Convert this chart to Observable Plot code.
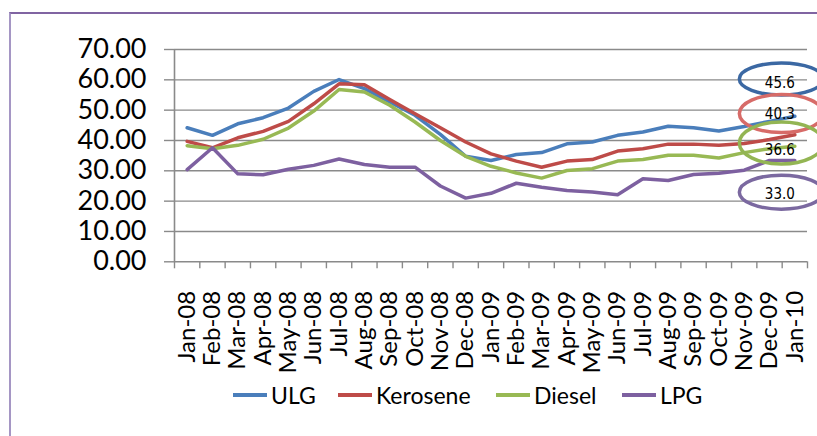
<!DOCTYPE html>
<html>
<head>
<meta charset="utf-8">
<script src="https://cdn.jsdelivr.net/npm/d3@7"></script>
<script src="https://cdn.jsdelivr.net/npm/@observablehq/plot@0.6"></script>
<style>
  html, body { margin: 0; padding: 0; background: #fff; }
  body { width: 817px; height: 436px; position: relative; overflow: hidden; font-family: Lato, "Open Sans", sans-serif; }
  #frame { position: absolute; left: 9px; top: 12px; width: 900px; height: 500px; border-top: 2px solid #8064a2; border-left: 2px solid #a596c4; box-sizing: border-box; }
  #chart { position: absolute; left: 0; top: 0; }
  #legend { position: absolute; top: 380px; left: 0; width: 817px; height: 30px; font-size: 23px; color: #000; }
  .item { position: absolute; top: 0; display: flex; align-items: center; height: 30px; }
  .sw { width: 34px; height: 4px; margin-right: 4px; }
</style>
</head>
<body>
<div id="frame"></div>
<div id="chart"></div>
<div id="legend"></div>
<script>
const months = ["Jan-08","Feb-08","Mar-08","Apr-08","May-08","Jun-08","Jul-08","Aug-08","Sep-08","Oct-08","Nov-08","Dec-08",
  "Jan-09","Feb-09","Mar-09","Apr-09","May-09","Jun-09","Jul-09","Aug-09","Sep-09","Oct-09","Nov-09","Dec-09","Jan-10"];
const seriesNames = ["ULG", "Kerosene", "Diesel", "LPG"];
const seriesColors = ["#4a7ebb", "#be4b48", "#98b954", "#7d60a0"];
const ulg      = [44.2, 41.7, 45.5, 47.5, 50.7, 56.2, 60.1, 57.1, 52.7, 48.3, 42.0, 34.8, 33.4, 35.4, 36.0, 38.9, 39.5, 41.7, 42.8, 44.7, 44.2, 43.1, 44.6, 46.3, 48.0];
const kerosene = [39.7, 37.6, 40.9, 43.0, 46.3, 52.1, 58.7, 58.4, 53.5, 48.8, 44.2, 39.5, 35.6, 33.2, 31.2, 33.2, 33.7, 36.5, 37.3, 38.8, 38.8, 38.4, 39.0, 40.3, 41.9];
const diesel   = [38.3, 37.3, 38.4, 40.4, 44.1, 49.7, 56.8, 56.0, 51.6, 46.1, 40.0, 34.8, 31.5, 29.3, 27.6, 30.1, 30.7, 33.2, 33.7, 35.1, 35.1, 34.2, 36.0, 37.3, 38.1];
const lpg      = [30.4, 37.6, 29.0, 28.7, 30.5, 31.8, 33.9, 32.1, 31.2, 31.2, 25.0, 21.0, 22.6, 25.9, 24.6, 23.5, 23.0, 22.1, 27.4, 26.8, 28.8, 29.2, 30.2, 33.4, 33.4];
const yTicks = [0, 10, 20, 30, 40, 50, 60, 70];

// hand-drawn annotations on the right
const annTexts = ["45.6", "40.3", "36.6", "33.0"];
const annTextY = [58.8, 48.8, 36.9, 22.2];
const annEllipseY = [60.1, 48.7, 39.0, 22.8];
const annEllipseRy = [16, 19, 21, 17];
const annColors = ["#3b68a3", "#d76b68", "#93b553", "#7b69a0"];

const allSeries = [ulg, kerosene, diesel, lpg];
const rows = [];
allSeries.forEach((vals, s) => vals.forEach((v, i) => rows.push({series: seriesNames[s], i: i + 0.5, v})));

const W = 817, H = 380;
const svg = Plot.plot({
  width: W, height: H,
  marginLeft: 174, marginRight: 10, marginTop: 49, marginBottom: H - 261.3,
  style: {fontFamily: "Lato, 'Open Sans', sans-serif", background: "transparent", overflow: "visible"},
  x: {type: "linear", domain: [0, months.length]},
  y: {domain: [0, 70]},
  color: {domain: seriesNames, range: seriesColors},
  marks: [
    Plot.ruleY(yTicks, {stroke: "#8a8a8a", strokeWidth: 1.4}),
    Plot.axisY({ticks: yTicks, tickSize: 10, tickPadding: 18, tickFormat: d => d.toFixed(2), fontSize: 27, stroke: "#8a8a8a", strokeWidth: 1.4, fill: "#000", label: null}),
    Plot.ruleX([0], {y1: 0, y2: 70, stroke: "#8a8a8a", strokeWidth: 1.6}),
    Plot.axisX({ticks: d3.range(months.length + 1), tickSize: 7, tickFormat: () => "", stroke: "#8a8a8a", strokeWidth: 1.4, label: null}),
    Plot.axisX({ticks: d3.range(months.length).map(i => i + 0.5), tickSize: 0, tickPadding: 29, tickRotate: -90,
      tickFormat: d => months[Math.floor(d)], fontSize: 24, fill: "#000", label: null}),
    Plot.line(rows, {x: "i", y: "v", z: "series", stroke: "series", strokeWidth: 3.5, strokeLinejoin: "round", strokeLinecap: "round"}),
    Plot.text(annTexts, {x: () => months.length - 0.5, y: (d, j) => annTextY[j], text: d => d, dx: -15,
      fontSize: 15, fontFamily: "'Liberation Sans Narrow', 'DejaVu Sans Condensed', sans-serif", fill: "#000"})
  ]
});

const xs = svg.scale("x"), ys = svg.scale("y");
d3.select(svg).append("g")
  .selectAll("ellipse")
  .data(annTexts)
  .join("ellipse")
  .attr("cx", xs.apply(months.length - 0.5) - 13)
  .attr("cy", (d, j) => ys.apply(annEllipseY[j]))
  .attr("rx", 42)
  .attr("ry", (d, j) => annEllipseRy[j])
  .attr("fill", "none")
  .attr("stroke", (d, j) => annColors[j])
  .attr("stroke-width", 3.5);

document.getElementById("chart").appendChild(svg);

// legend
const legend = document.getElementById("legend");
const legendLeft = [233, 338, 496, 622];
seriesNames.forEach((name, s) => {
  const item = document.createElement("div");
  item.className = "item";
  item.style.left = legendLeft[s] + "px";
  const sw = document.createElement("div");
  sw.className = "sw";
  sw.style.background = seriesColors[s];
  const t = document.createElement("span");
  t.textContent = name;
  item.appendChild(sw);
  item.appendChild(t);
  legend.appendChild(item);
});
</script>
</body>
</html>
